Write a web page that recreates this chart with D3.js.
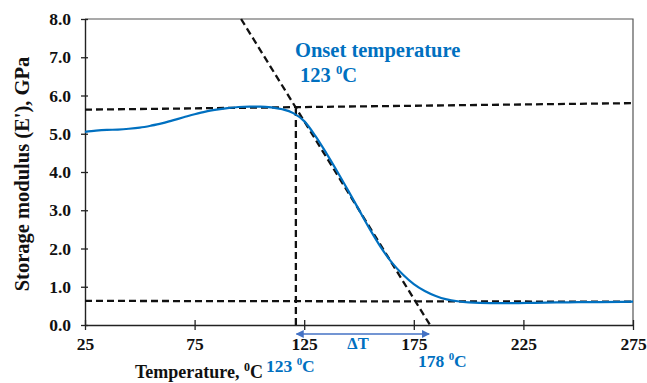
<!DOCTYPE html>
<html>
<head>
<meta charset="utf-8">
<script src="https://cdn.jsdelivr.net/npm/d3@7"></script>
<style>
  body { margin: 0; background: #fff; }
</style>
</head>
<body>
<div id="main"></div>
<script>
// data
var temps = [25, 30, 35, 40, 45, 50, 55, 60, 65, 70, 75, 80, 85, 90, 95, 100, 105, 110, 115, 120,
             125, 130, 135, 140, 145, 150, 155, 160, 165, 170, 175, 180, 185, 190, 195, 200,
             210, 220, 230, 240, 250, 260, 275];
var modulus = [5.05, 5.08, 5.10, 5.11, 5.13, 5.16, 5.21, 5.27, 5.35, 5.43, 5.51, 5.58, 5.63, 5.67, 5.70, 5.71, 5.71, 5.69, 5.64, 5.54,
               5.33, 4.95, 4.50, 4.02, 3.52, 3.01, 2.50, 2.03, 1.63, 1.32, 1.07, 0.89, 0.76, 0.67, 0.62, 0.59,
               0.57, 0.57, 0.58, 0.59, 0.60, 0.60, 0.61];
var xTicks = [25, 75, 125, 175, 225, 275];
var yTicks = [0, 1, 2, 3, 4, 5, 6, 7, 8];

// construction lines (temperature, modulus)
var upperLine = [[25, 5.63], [275, 5.80]];
var lowerLine = [[25, 0.63], [275, 0.61]];
var tangentLine = [[96.2, 8.0], [182.4, 0.0]];
var onsetLine = [[121.2, 0.0], [121.2, 5.69]];
var deltaT = [121.5, 182];

var FONT = "'Liberation Serif', 'Times New Roman', 'DejaVu Serif', serif";

// dimensions
var svg_width = 647,
    svg_height = 383;
var margin = {top: 19, right: 14, bottom: 58, left: 85};
var graph_width = svg_width - margin.left - margin.right,
    graph_height = svg_height - margin.top - margin.bottom;

var root = d3.select("#main").append("svg")
    .attr("width", svg_width)
    .attr("height", svg_height)
    .attr("font-family", FONT)
    .attr("font-weight", "bold");

var defs = root.append("defs");
["start", "end"].forEach(function(k) {
    defs.append("marker")
        .attr("id", "arrow-" + k)
        .attr("viewBox", "0 0 10 10")
        .attr("refX", 9).attr("refY", 5)
        .attr("markerWidth", 5).attr("markerHeight", 5)
        .attr("orient", k == "end" ? "auto" : "auto-start-reverse")
        .append("path")
        .attr("d", "M0,0 L10,5 L0,10 z")
        .attr("fill", "#4472C4");
});

var svg = root.append("g")
    .attr("transform", "translate(" + margin.left + "," + margin.top + ")");

var xScale = d3.scaleLinear().domain([25, 275]).range([0, graph_width]);
var yScale = d3.scaleLinear().domain([0, 8]).range([graph_height, 0]);

// frame (top and right)
svg.append("path")
    .attr("d", "M0,0 H" + graph_width + " V" + graph_height)
    .attr("fill", "none")
    .attr("stroke", "#555")
    .attr("stroke-width", 1.2);

// axes
var xAxis = svg.append("g")
    .attr("transform", "translate(0," + graph_height + ")")
    .call(d3.axisBottom(xScale).tickValues(xTicks).tickSize(0).tickPadding(13));
xAxis.selectAll(".tick").append("line")
    .attr("y1", -5).attr("y2", 5)
    .attr("stroke", "#222").attr("stroke-width", 1.3);

var yAxis = svg.append("g")
    .call(d3.axisLeft(yScale).tickValues(yTicks).tickFormat(d3.format(".1f")).tickSize(0).tickPadding(14));
yAxis.selectAll(".tick").append("line")
    .attr("x1", -4).attr("x2", 3)
    .attr("stroke", "#222").attr("stroke-width", 1.3);

[xAxis, yAxis].forEach(function(a) {
    a.attr("font-family", FONT).attr("font-size", 17.5);
    a.select(".domain").attr("stroke", "#222").attr("stroke-width", 1.4);
    a.selectAll(".tick text")
        .attr("fill", "#111")
        .attr("font-weight", "bold");
});

// axis titles
var xt = root.append("text")
    .attr("x", 135).attr("y", 378)
    .attr("fill", "#111")
    .attr("font-size", 18);
xt.append("tspan").text("Temperature, ");
xt.append("tspan").attr("dy", -7).attr("font-size", 12).text("0");
xt.append("tspan").attr("dy", 7).text("C");

root.append("text")
    .attr("transform", "translate(29," + 174 + ") rotate(-90)")
    .attr("text-anchor", "middle")
    .attr("fill", "#111")
    .attr("font-size", 20.5)
    .text("Storage modulus (E'), GPa");

// dashed construction lines
var line = d3.line()
    .x(function(d) { return xScale(d[0]); })
    .y(function(d) { return yScale(d[1]); });

[upperLine, lowerLine, tangentLine, onsetLine].forEach(function(l) {
    svg.append("path")
        .attr("d", line(l))
        .attr("fill", "none")
        .attr("stroke", "#111")
        .attr("stroke-width", 2.3)
        .attr("stroke-dasharray", "7,4");
});

// storage modulus curve
var curveData = temps.map(function(t, i) { return [t, modulus[i]]; });
svg.append("path")
    .attr("d", d3.line().curve(d3.curveMonotoneX)
        .x(function(d) { return xScale(d[0]); })
        .y(function(d) { return yScale(d[1]); })(curveData))
    .attr("fill", "none")
    .attr("stroke", "#0070C0")
    .attr("stroke-width", 2.2);

// delta T arrow
svg.append("line")
    .attr("x1", xScale(deltaT[0])).attr("x2", xScale(deltaT[1]))
    .attr("y1", graph_height + 9).attr("y2", graph_height + 9)
    .attr("stroke", "#4472C4")
    .attr("stroke-width", 1.6)
    .attr("marker-start", "url(#arrow-start)")
    .attr("marker-end", "url(#arrow-end)");

// annotations
function supLabel(x, y, main, size) {
    var t = root.append("text")
        .attr("x", x).attr("y", y)
        .attr("fill", "#0070C0")
        .attr("font-size", size);
    t.append("tspan").text(main);
    t.append("tspan").attr("dy", -size * 0.4).attr("font-size", size * 0.62).text("0");
    t.append("tspan").attr("dy", size * 0.4).text("C");
    return t;
}

root.append("text")
    .attr("x", 295).attr("y", 57)
    .attr("fill", "#0070C0")
    .attr("font-size", 20.5)
    .text("Onset temperature");
supLabel(300, 82, "123 ", 20.5);
supLabel(266, 372, "123 ", 17.5);
supLabel(418, 367, "178 ", 17.5);

root.append("text")
    .attr("x", 358).attr("y", 349)
    .attr("text-anchor", "middle")
    .attr("fill", "#0070C0")
    .attr("font-size", 16.5)
    .text("ΔT");
</script>
</body>
</html>
